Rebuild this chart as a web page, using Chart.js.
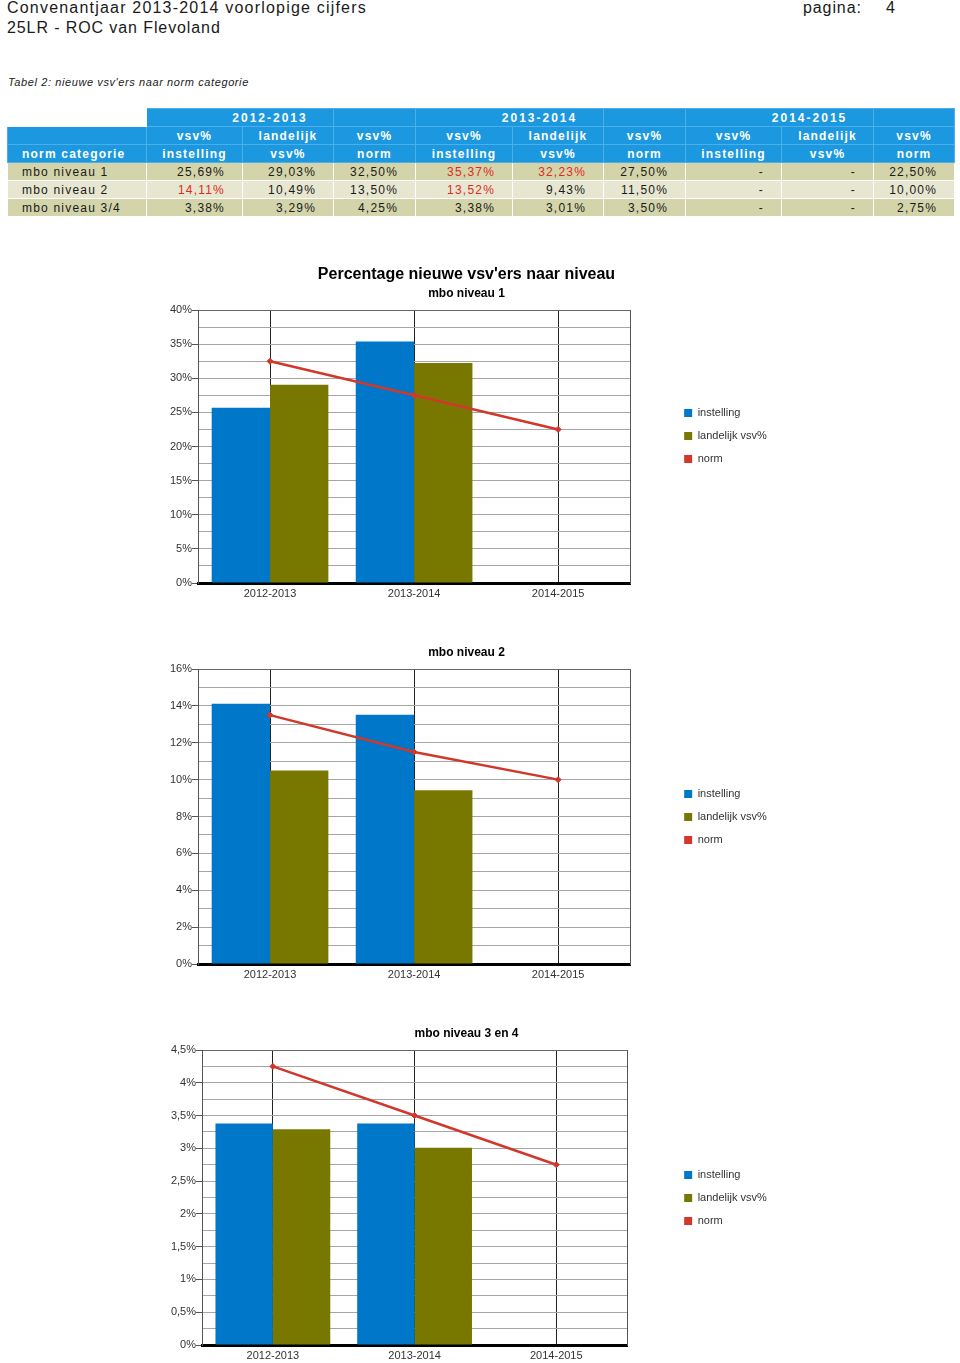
<!DOCTYPE html>
<html>
<head>
<meta charset="utf-8">
<script src="https://cdn.jsdelivr.net/npm/chart.js@4.4.1/dist/chart.umd.min.js"></script>
<style>
    html, body { margin: 0; padding: 0; width: 960px; height: 1363px; overflow: hidden; background: #fff; }
    body { position: relative; font-family: "Liberation Sans", Arial, sans-serif; color: #1a1a1a; }
    .hdr { position: absolute; font-size: 16px; letter-spacing: 0.9px; line-height: 20px; white-space: nowrap; }
    #caption { position: absolute; left: 8px; top: 74px; font-size: 11px; font-style: italic; letter-spacing: 0.6px; line-height: 16px; white-space: nowrap; }
    table { position: absolute; left: 7px; top: 108px; border-collapse: collapse; table-layout: fixed; width: 947px; font-size: 12px; letter-spacing: 1.2px; }
    td { height: 15px; padding: 2px 17px 0 2px; border: 1px solid #fff; text-align: right; line-height: 15px; white-space: nowrap; overflow: visible; }
    tr.h td { background: #1c98e0; color: #fff; font-weight: bold; text-align: center; border-color: #4eaee8; padding-left: 2px; padding-right: 2px; }
    tr.h td.blank { background: #fff; border-color: #fff; }
    tr.h td.yr { letter-spacing: 2px; padding-left: 62px; }
    tr.h td.first { text-align: left; padding-left: 14px; }
    tr.d td.first { text-align: left; padding-left: 14px; }
    tr.d1 td { background: #d4d4aa; }
    tr.d2 td { background: #e7e7d1; }
    td.red { color: #dd2a22; }
    canvas { position: absolute; }
</style>
</head>
<body>
<div class="hdr" style="left:7px; top:-2px; letter-spacing:1.2px;">Convenantjaar 2013-2014 voorlopige cijfers</div>
<div class="hdr" style="left:7px; top:18px;">25LR - ROC van Flevoland</div>
<div class="hdr" style="left:803px; top:-2px;">pagina:</div>
<div class="hdr" style="left:886px; top:-2px;">4</div>
<div id="caption">Tabel 2: nieuwe vsv'ers naar norm categorie</div>

<table id="tbl">
    <colgroup>
        <col style="width:139px"><col style="width:96px"><col style="width:91px"><col style="width:82px">
        <col style="width:97px"><col style="width:91px"><col style="width:82px">
        <col style="width:96px"><col style="width:92px"><col style="width:81px">
    </colgroup>
    <tbody id="tbody"></tbody>
</table>

<canvas id="c1" width="625" height="348" style="left:150px; top:262px;"></canvas>
<canvas id="c2" width="625" height="350" style="left:150px; top:642px;"></canvas>
<canvas id="c3" width="625" height="350" style="left:150px; top:1023px;"></canvas>

<script>
    // data, per niveau (1, 2, 3/4)
    const years = ['2012-2013', '2013-2014', '2014-2015'];
    const levels = ['mbo niveau 1', 'mbo niveau 2', 'mbo niveau 3/4'];
    const subtitles = ['mbo niveau 1', 'mbo niveau 2', 'mbo niveau 3 en 4'];
    const instelling = [[25.69, 35.37, null], [14.11, 13.52, null], [3.38, 3.38, null]];
    const landelijk = [[29.03, 32.23, null], [10.49, 9.43, null], [3.29, 3.01, null]];
    const norm = [[32.50, 27.50, 22.50], [13.50, 11.50, 10.00], [4.25, 3.50, 2.75]];
    const seriesNames = ['instelling', 'landelijk vsv%', 'norm'];
    const colHeads = [['vsv%', 'instelling'], ['landelijk', 'vsv%'], ['vsv%', 'norm']];

    function pct(v) {
        if (v === null) return '-';
        return v.toFixed(2).replace('.', ',') + '%';
    }

    // table
    var rows = '';
    rows += '<tr class="h"><td class="blank"></td>';
    years.forEach(y => { rows += `<td class="yr" colspan="2">${y}</td><td></td>`; });
    rows += '</tr>';
    for (let r = 0; r < 2; r++) {
        rows += '<tr class="h">' + (r == 1 ? '<td class="first">norm categorie</td>' : '<td></td>');
        years.forEach(() => {
            colHeads.forEach(h => { rows += `<td>${h[r]}</td>`; });
        });
        rows += '</tr>';
    }
    levels.forEach(function (lvl, i) {
        rows += `<tr class="d ${i == 1 ? 'd2' : 'd1'}"><td class="first">${lvl}</td>`;
        years.forEach(function (y, j) {
            const a = instelling[i][j], b = landelijk[i][j], n = norm[i][j];
            rows += `<td class="${a !== null && a > n ? 'red' : ''}">${pct(a)}</td>`;
            rows += `<td class="${b !== null && b > n ? 'red' : ''}">${pct(b)}</td>`;
            rows += `<td>${pct(n)}</td>`;
        });
        rows += '</tr>';
    });
    document.getElementById('tbody').innerHTML = rows;

    // charts
    Chart.defaults.font.family = "'Liberation Sans', Arial, sans-serif";
    Chart.defaults.color = '#333';

    function fmtAxis(v) {
        return String(v).replace('.', ',') + '%';
    }

    function makeChart(id, lvl, yMax, yStep, labelStep, title, yWidth, y2Width, xHeight) {
        const isLabel = v => Math.abs(v / labelStep - Math.round(v / labelStep)) < 1e-6;
        const datasets = [
            { type: 'bar', label: seriesNames[0], data: instelling[lvl], backgroundColor: '#0077c8', borderWidth: 0, order: 1, categoryPercentage: 0.81, barPercentage: 1 },
            { type: 'bar', label: seriesNames[1], data: landelijk[lvl], backgroundColor: '#787800', borderWidth: 0, order: 1, categoryPercentage: 0.81, barPercentage: 1 },
            { type: 'line', label: seriesNames[2], data: norm[lvl], borderColor: '#d1382b', backgroundColor: '#d1382b', borderWidth: 2.5, pointStyle: 'rectRot', pointRadius: 3, pointBorderWidth: 1, order: 0 }
        ];
        return new Chart(document.getElementById(id), {
            data: { labels: years, datasets: datasets },
            options: {
                responsive: false,
                animation: false,
                layout: { padding: { left: 8, right: 0, top: 0, bottom: 0 } },
                plugins: {
                    tooltip: { enabled: false },
                    legend: {
                        position: 'right',
                        labels: {
                            boxWidth: 8, boxHeight: 8, padding: 12, color: '#333', font: { size: 11 },
                            sort: (a, b) => a.datasetIndex - b.datasetIndex,
                            generateLabels: ch => Chart.defaults.plugins.legend.labels.generateLabels(ch)
                                .map(l => Object.assign(l, { lineWidth: 0, strokeStyle: 'rgba(0,0,0,0)' }))
                        }
                    },
                    title: {
                        display: !!title, text: title, color: '#000',
                        font: { size: 16, weight: 'bold' }, padding: { top: 3, bottom: 0 }
                    },
                    subtitle: {
                        display: true, text: subtitles[lvl], color: '#000',
                        font: { size: 12, weight: 'bold' },
                        padding: title ? { top: 2.6, bottom: 8.8 } : { top: 3.8, bottom: 8.8 }
                    }
                },
                scales: {
                    x: {
                        offset: true,
                        grid: { offset: false, color: '#222', lineWidth: 1, drawTicks: false },
                        border: { color: '#000', width: 3 },
                        ticks: { padding: 4, color: '#333', font: { size: 11 } },
                        afterFit: s => { s.height = xHeight; }
                    },
                    y: {
                        min: 0, max: yMax,
                        ticks: {
                            stepSize: yStep, autoSkip: false, padding: 0, color: '#333', font: { size: 11 },
                            callback: v => isLabel(v) ? fmtAxis(v) : ''
                        },
                        grid: {
                            color: c => (c.tick && c.tick.value === yMax) ? '#666' : (c.tick && c.tick.value === 0 ? '#000' : '#a6a6a6'),
                            tickLength: 6,
                            tickColor: c => (c.tick && isLabel(c.tick.value)) ? '#555' : 'rgba(0,0,0,0)'
                        },
                        border: { color: '#555', width: 1 },
                        afterFit: s => { s.width = yWidth; }
                    },
                    y2: {
                        position: 'right', min: 0, max: yMax,
                        ticks: { display: false },
                        grid: { drawOnChartArea: false, drawTicks: false },
                        border: { display: true, color: '#555', width: 1 },
                        afterFit: s => { s.width = y2Width; }
                    }
                }
            }
        });
    }

    makeChart('c1', 0, 40, 2.5, 5, "Percentage nieuwe vsv'ers naar niveau", 40, 42, 27);
    makeChart('c2', 1, 16, 1, 2, null, 40, 42, 28);
    makeChart('c3', 2, 4.5, 0.25, 0.5, null, 44, 45, 28);
</script>
</body>
</html>
